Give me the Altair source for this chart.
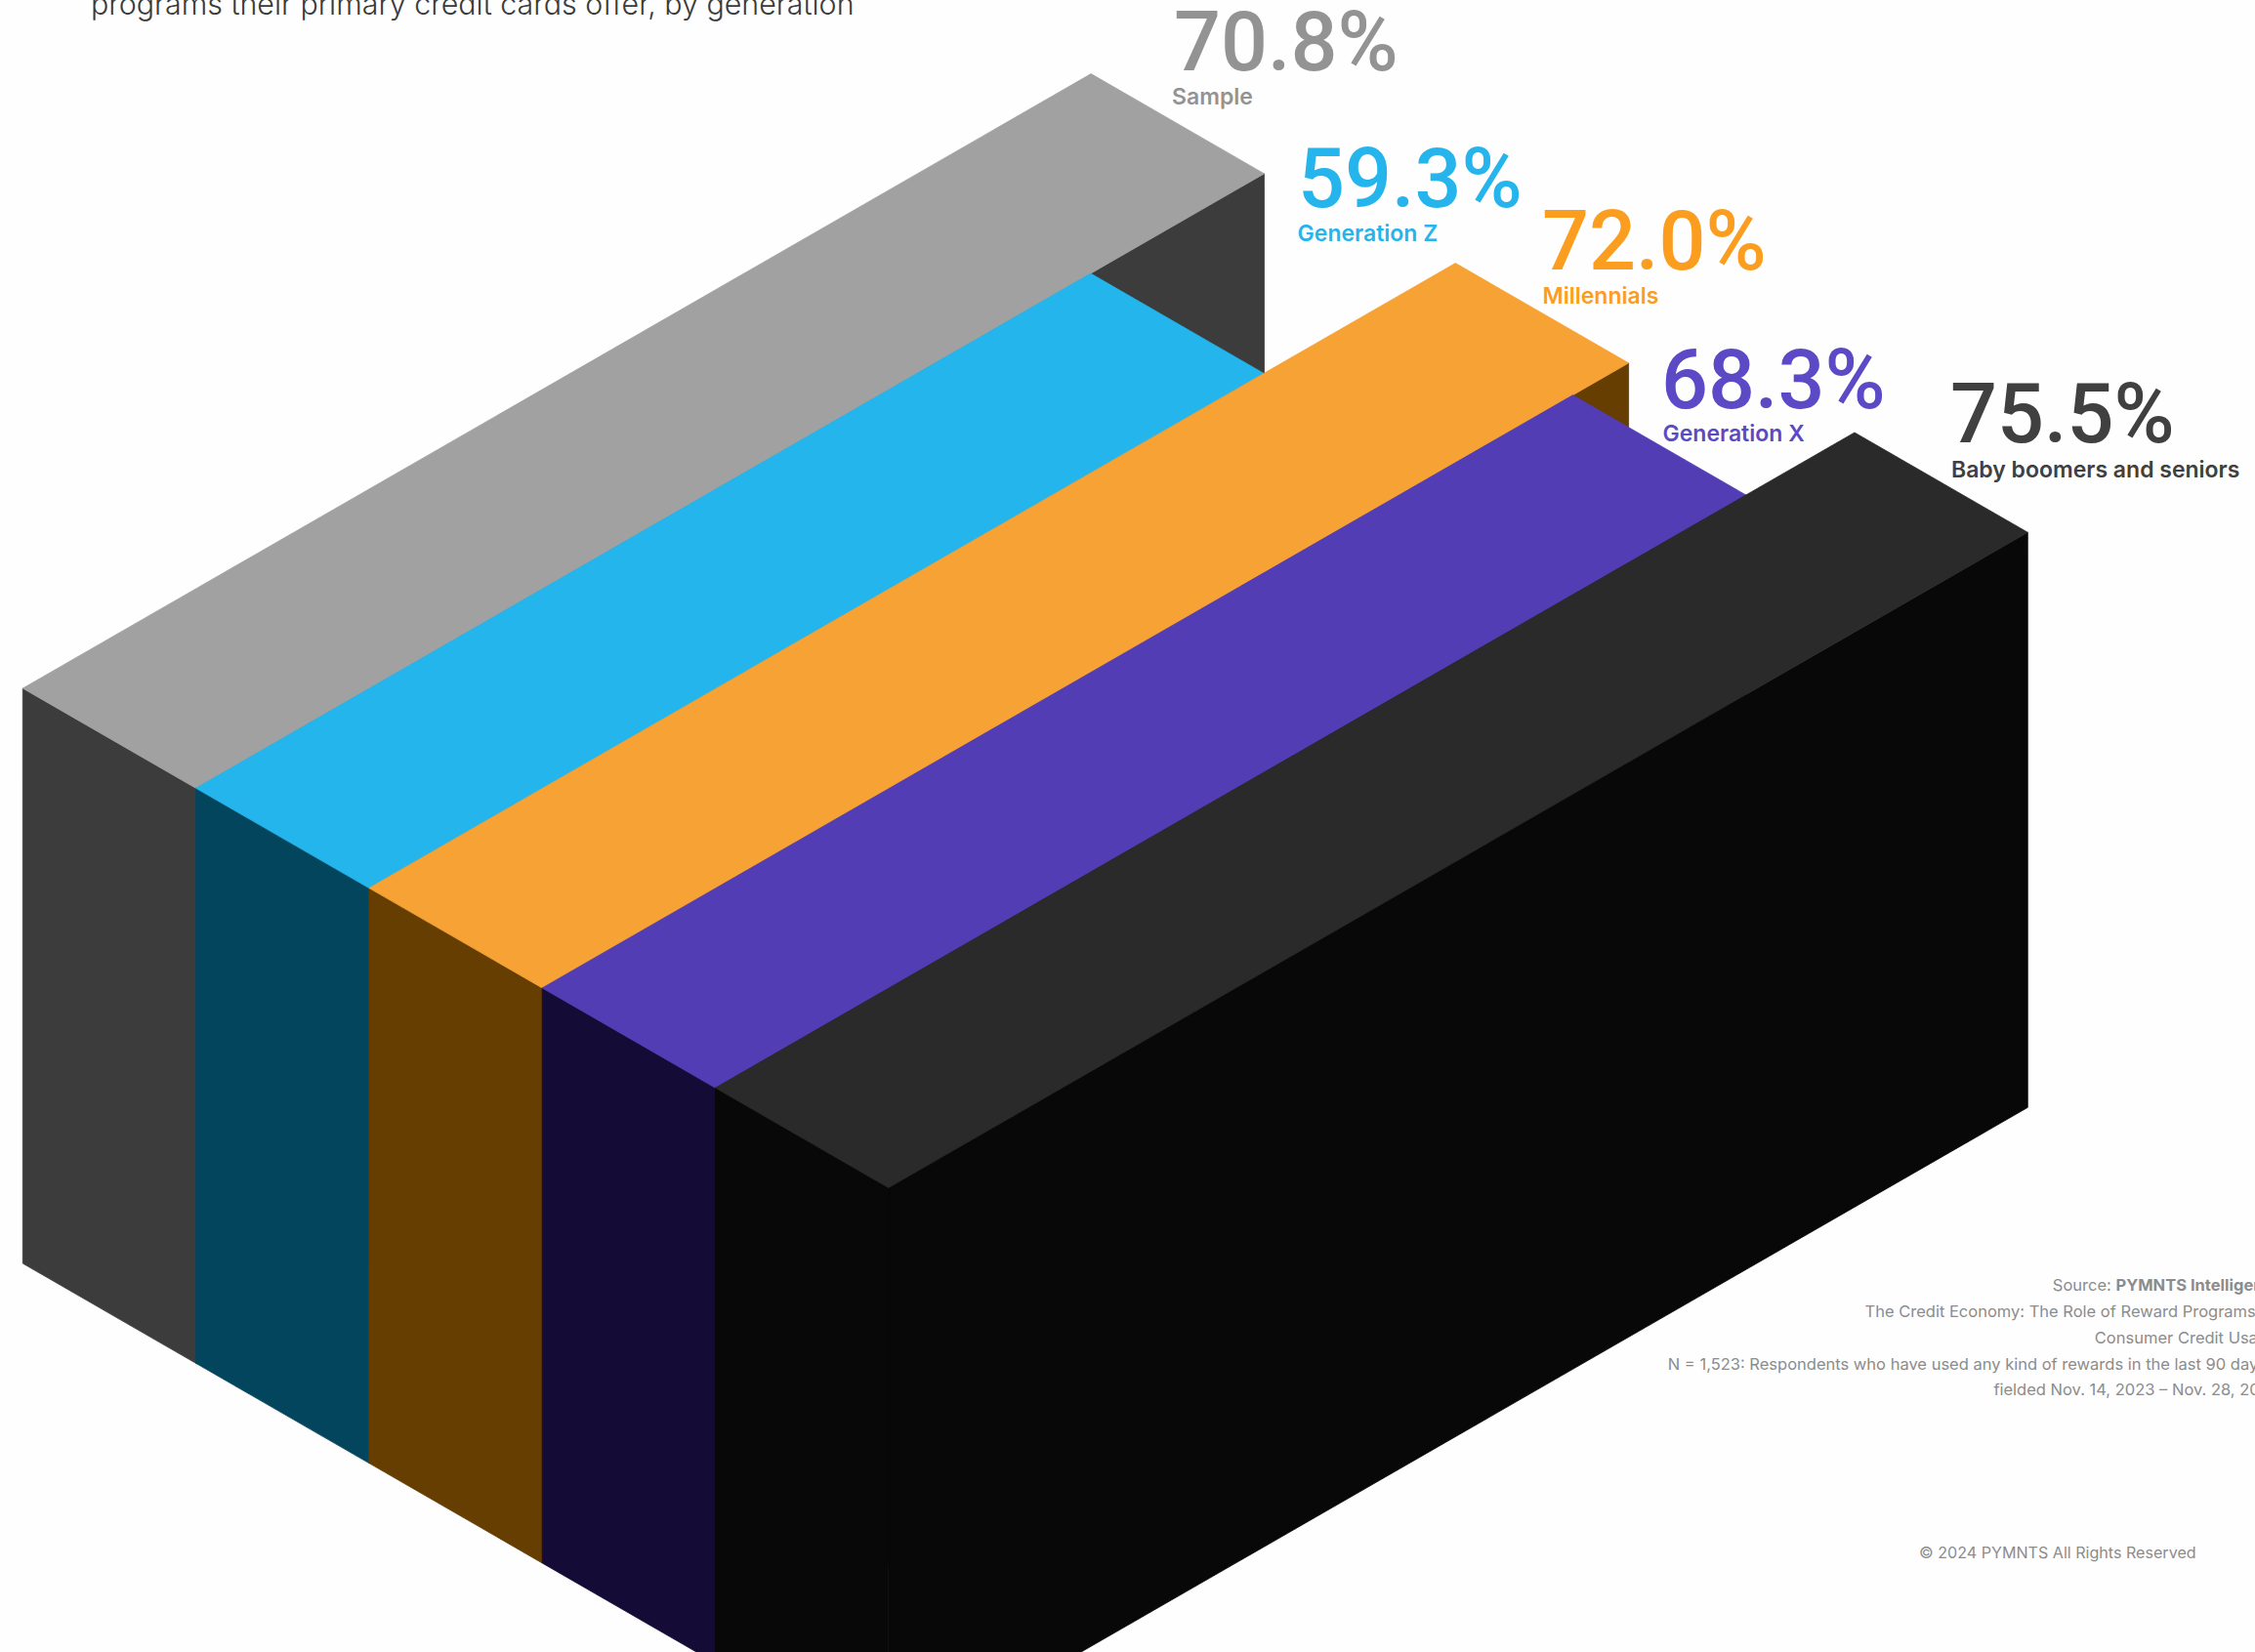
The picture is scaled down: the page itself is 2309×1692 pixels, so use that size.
import altair as alt
import numpy as np
import pandas as pd

# Survey results
segments = ["Sample", "Generation Z", "Millennials", "Generation X", "Baby boomers and seniors"]
shares = [70.8, 59.3, 72.0, 68.3, 75.5]

# Face colours for each isometric bar
top_colors = ["#a1a1a1", "#24b5ec", "#f6a235", "#533db5", "#2a2a2a"]
side_colors = ["#3c3c3c", "#04455e", "#663e02", "#140c37", "#080808"]
text_colors = ["#939393", "#25b4eb", "#fb9e20", "#5b49c6", "#404040"]

# Label placement, in pixels
value_x = [1202, 1329, 1579, 1701, 1997]
value_y = [71.7, 212, 276, 417.7, 453]
name_x = [1200, 1328.6, 1579.5, 1702.5, 1998]
name_y = [106.7, 246.7, 310.7, 451.7, 489]

subtitle = "programs their primary credit cards offer, by generation"
notes = [
    ("Source:", 2101.8, 1322, 400),
    ("PYMNTS Intelligence", 2166.5, 1322, 700),
    ("The Credit Economy: The Role of Reward Programs", 1909.5, 1349, 400),
    ("Consumer Credit Usage Study", 2144.8, 1375.7, 400),
    ("N = 1,523: Respondents who have used any kind of rewards in the last 90 days,", 1707.8, 1402.7, 400),
    ("fielded Nov. 14, 2023 – Nov. 28, 2023", 2041.4, 1429.3, 400),
]
copyright_line = ("© 2024 PYMNTS All Rights Reserved", 1965, 1596, 400)

W, H = 2309, 1692
FONT = "Inter"

# Isometric projection settings
ORIGIN = np.array([23.3, 705.0])
DEPTH = np.array([177.3, 102.3])      # across one bar
PER_POINT = np.array([15.45, -8.89])  # along a bar, per percentage point
WALL = 589.0                          # vertical extent of the walls

x_scale = alt.Scale(domain=[0, W], range=[0, W], zero=False, nice=False)
y_scale = alt.Scale(domain=[H, 0], zero=False, nice=False)


def polygon_frame(upper, lower):
    """Area data for a convex shape from its upper and lower outlines."""
    ux, uy = zip(*upper)
    lx, ly = zip(*lower)
    xs = sorted(set(ux) | set(lx))
    return pd.DataFrame(
        {"x": xs, "y": np.interp(xs, ux, uy), "y2": np.interp(xs, lx, ly)}
    )


def face(frame, color):
    # a hairline stroke in the fill colour keeps neighbouring faces from showing seams
    return (
        alt.Chart(frame)
        .mark_area(color=color, stroke=color, strokeWidth=0.8, clip=True, orient="vertical", interpolate="linear")
        .encode(
            x=alt.X("x:Q", scale=x_scale, axis=None),
            y=alt.Y("y:Q", scale=y_scale, axis=None),
            y2="y2:Q",
        )
    )


layers = []
for i, share in enumerate(shares):
    a = ORIGIN + i * DEPTH
    b = a + DEPTH
    length = share * PER_POINT
    c = b + length
    d = a + length
    drop = np.array([0, WALL])

    # long wall, then the end wall, then the top of the bar
    layers.append(face(polygon_frame([b, c], [b + drop, c + drop]), side_colors[i]))
    layers.append(face(polygon_frame([a, b], [a + drop, b + drop]), side_colors[i]))
    layers.append(face(polygon_frame([a, d, c], [a, b, c]), top_colors[i]))


def text_layer(frame, size, weight, font=FONT):
    return (
        alt.Chart(frame)
        .mark_text(align="left", baseline="alphabetic", font=font, fontSize=size, fontWeight=weight, clip=True)
        .encode(
            x=alt.X("x:Q", scale=x_scale, axis=None),
            y=alt.Y("y:Q", scale=y_scale, axis=None),
            text="label:N",
            color=alt.Color("color:N", scale=None),
        )
    )


value_frame = pd.DataFrame(
    {"label": [f"{s:.1f}%" for s in shares], "x": value_x, "y": value_y, "color": text_colors}
)
name_frame = pd.DataFrame({"label": segments, "x": name_x, "y": name_y, "color": text_colors})
subtitle_frame = pd.DataFrame({"label": [subtitle], "x": [93], "y": [15], "color": ["#3a3a3a"]})
note_frame = pd.DataFrame(notes, columns=["label", "x", "y", "weight"]).assign(color="#8c8c8c")
copyright_frame = pd.DataFrame(
    [copyright_line], columns=["label", "x", "y", "weight"]
).assign(color="#8c8c8c")

layers.append(text_layer(value_frame, 84.5, 500, "Roboto"))
layers.append(text_layer(name_frame, 23, 600))
layers.append(text_layer(subtitle_frame, 30.4, 300))
layers.append(text_layer(note_frame[note_frame.weight == 400], 16.5, 400))
layers.append(text_layer(note_frame[note_frame.weight == 700], 16.5, 700))
layers.append(text_layer(copyright_frame, 16.1, 400))

chart = (
    alt.layer(*layers)
    .properties(width=W, height=H, padding=0, background="#fefefe", autosize=alt.AutoSizeParams(type="none"))
    .configure_view(stroke=None)
)

chart.save("out.html", embed_options={"renderer": "svg", "actions": False})
